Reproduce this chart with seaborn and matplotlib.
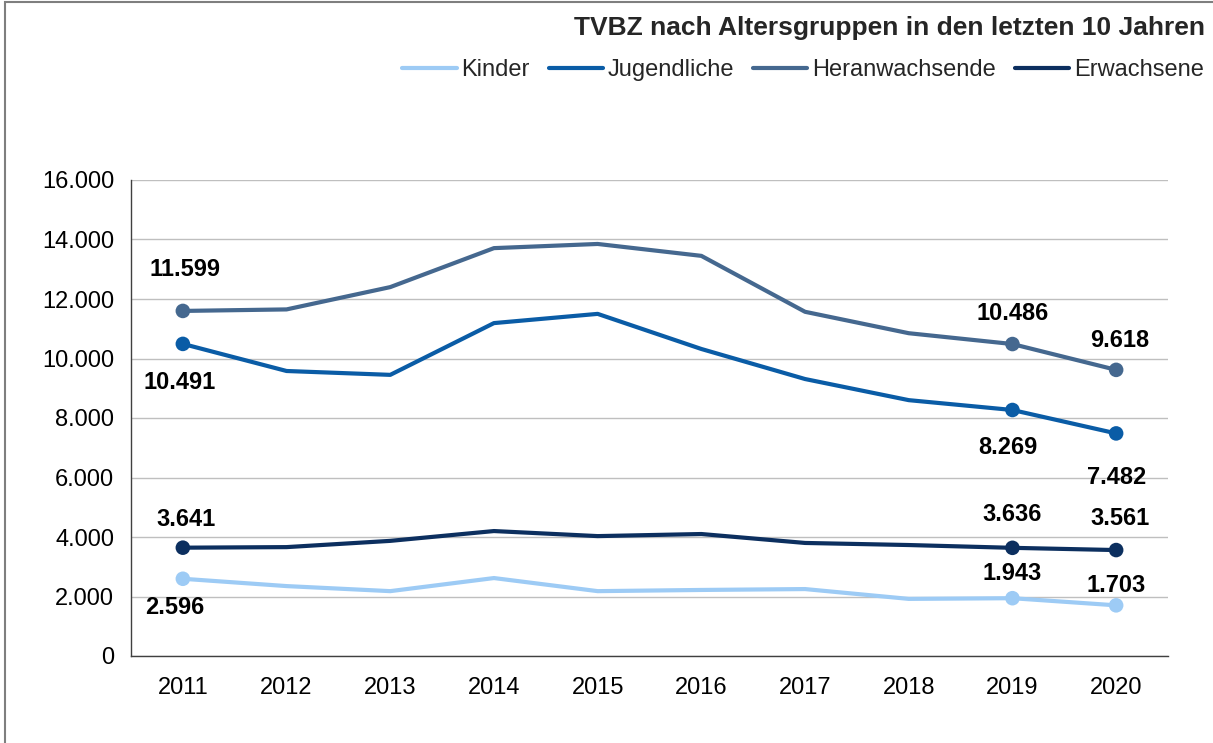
import pandas as pd
import matplotlib.pyplot as plt
import seaborn as sns
from matplotlib.patches import Rectangle

years = [2011, 2012, 2013, 2014, 2015, 2016, 2017, 2018, 2019, 2020]
kinder = [2596, 2350, 2180, 2620, 2180, 2220, 2250, 1920, 1943, 1703]
jugendliche = [10491, 9580, 9450, 11190, 11500, 10320, 9310, 8600, 8269, 7482]
heranwachsende = [11599, 11650, 12400, 13710, 13850, 13450, 11570, 10850, 10486, 9618]
erwachsene = [3641, 3660, 3870, 4200, 4030, 4100, 3800, 3730, 3636, 3561]

groups = ["Kinder", "Jugendliche", "Heranwachsende", "Erwachsene"]
farben = ["#9DCBF5", "#0A5CA6", "#45688F", "#0C2F5F"]
beschriftet = [2011, 2019, 2020]

# Tabelle im Langformat fuer seaborn
df = pd.DataFrame({"Jahr": years, "Kinder": kinder, "Jugendliche": jugendliche,
                   "Heranwachsende": heranwachsende, "Erwachsene": erwachsene})
df_long = df.melt(id_vars="Jahr", var_name="Gruppe", value_name="Wert")
df_long["pos"] = df_long["Jahr"].map({j: i for i, j in enumerate(years)})

sns.set_style("white")
plt.rcParams["font.family"] = ["Liberation Sans", "DejaVu Sans"]

fig = plt.figure(figsize=(12.13, 7.43), dpi=100)
ax = fig.add_axes([131 / 1213, 87 / 743, 1037 / 1213, 476 / 743])

sns.lineplot(data=df_long, x="pos", y="Wert", hue="Gruppe", hue_order=groups,
             palette=farben, linewidth=3, ax=ax, legend=False)

punkte = df_long[df_long["Jahr"].isin(beschriftet)]
sns.scatterplot(data=punkte, x="pos", y="Wert", hue="Gruppe", hue_order=groups,
                palette=farben, s=110, linewidth=0, ax=ax, legend=False, zorder=5)

# Versatz der Beschriftungen (Pixel) je Gruppe und Jahr
versatz = {
    ("Heranwachsende", 2011): (2, 41), ("Jugendliche", 2011): (-3, -39),
    ("Erwachsene", 2011): (3, 28), ("Kinder", 2011): (-8, -29),
    ("Heranwachsende", 2019): (0, 31), ("Jugendliche", 2019): (-5, -38),
    ("Erwachsene", 2019): (0, 33), ("Kinder", 2019): (0, 25),
    ("Heranwachsende", 2020): (4, 29), ("Jugendliche", 2020): (0, -44),
    ("Erwachsene", 2020): (4, 32), ("Kinder", 2020): (0, 20),
}
for _, r in punkte.iterrows():
    dx, dy = versatz[(r["Gruppe"], r["Jahr"])]
    txt = f"{int(r['Wert']):,}".replace(",", ".")
    ax.annotate(txt, (r["pos"], r["Wert"]), xytext=(dx, dy), textcoords="offset pixels",
                ha="center", va="center", fontsize=17, fontweight="bold", color="black")

ax.set_xlim(-0.5, 9.5)
ax.set_ylim(0, 16000)
ax.set_yticks(range(0, 16001, 2000))
ax.set_yticklabels([f"{v:,}".replace(",", ".") for v in range(0, 16001, 2000)])
ax.set_xticks(range(10))
ax.set_xticklabels([str(j) for j in years])
ax.set_xticks([i - 0.5 for i in range(11)], minor=True)
ax.tick_params(axis="x", which="major", length=0, labelsize=17, pad=15, colors="black")
ax.tick_params(axis="x", which="minor", length=7, width=1, color="#404040", direction="out")
ax.tick_params(axis="y", length=6, width=1, direction="out", labelsize=17, pad=6, colors="black")
ax.tick_params(axis="y", color="#404040")
ax.set_xlabel("")
ax.set_ylabel("")
ax.grid(axis="y", color="#BFBFBF", linewidth=1)
ax.set_axisbelow(True)
for s in ["top", "right"]:
    ax.spines[s].set_visible(False)
for s in ["left", "bottom"]:
    ax.spines[s].set_color("#404040")
    ax.spines[s].set_linewidth(1)

fig.text(1205 / 1213, 1 - 28 / 743, "TVBZ nach Altersgruppen in den letzten 10 Jahren",
         ha="right", va="center", fontsize=19, fontweight="bold")

handles = [plt.Line2D([], [], color=c, linewidth=3) for c in farben]
fig.legend(handles, groups, loc="center right", bbox_to_anchor=(1213 / 1213, 1 - 70 / 743),
           ncol=4, frameon=False, fontsize=17, handlelength=2.3, handletextpad=0.2,
           columnspacing=0.8, borderaxespad=0)

fig.patches.append(Rectangle((5 / 1213, -0.1), 1.2, 1 - 2 / 743 + 0.1, transform=fig.transFigure,
                             fill=False, edgecolor="#7F7F7F", linewidth=1.5))

fig.savefig("out.png", dpi=100)
